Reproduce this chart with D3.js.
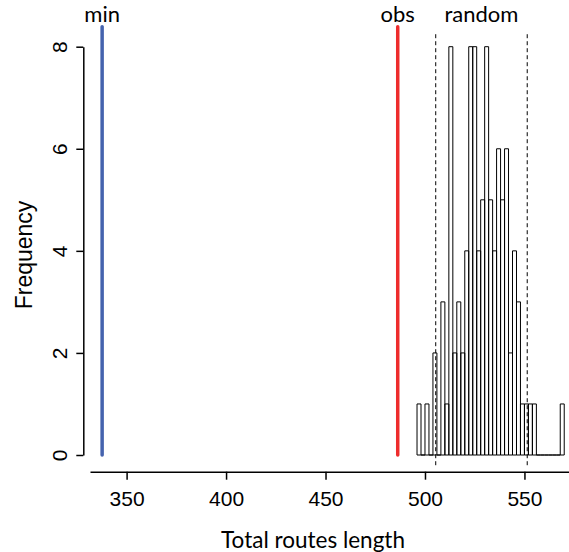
<!DOCTYPE html>
<html lang="en">
<head>
    <meta charset="UTF-8">
    <script src="https://cdn.jsdelivr.net/npm/d3@7"></script>
    <title>Total routes length</title>
    <style>
    body { margin: 0; background: white; }
    .tick text { font-family: "Liberation Sans", Arial, sans-serif; font-size: 21px; fill: black; }
    .lab { font-family: Lato, "Open Sans", sans-serif; font-size: 22px; fill: black; }
    </style>
</head>
<body>
    <div class="content"></div>
    <script>
    // histogram of random route lengths (bins of width 2)
    var breaks = d3.range(496, 572, 2);
    var counts = [1, 0, 1, 0, 2, 0, 3, 1, 8, 2, 3, 2, 4, 8, 8, 4, 5, 8, 5, 4,
                  6, 5, 6, 2, 4, 3, 1, 1, 1, 1, 0, 0, 0, 0, 0, 0, 1];
    // reference values
    var refNames = ['min', 'obs'];
    var refValues = [337.7, 486.3];
    var refColors = ['#4563ae', '#ee2c2c'];
    var quantiles = [505.4, 551.4];
    var xTicks = [350, 400, 450, 500, 550];
    var yTicks = [0, 2, 4, 6, 8];

    var p = { w: 569, h: 552 };

    var svg = d3.select('.content').append('svg')
        .attr('width', p.w)
        .attr('height', p.h);

    var x = d3.scaleLinear().domain([331.6, 572.4]).range([90, 569]);
    var y = d3.scaleLinear().domain([0, 8]).range([455, 46.7]);

    //truc x
    svg.append('g')
        .attr('transform', 'translate(0,471.7)')
        .call(d3.axisBottom(x).tickValues(xTicks).tickSize(8).tickSizeOuter(0).tickPadding(11))
        .call(function(g) {
            g.selectAll('path, line').attr('stroke', 'black').attr('stroke-width', 1.5);
        });

    //truc y, nhan xoay doc
    svg.append('g')
        .attr('transform', 'translate(83.3,0)')
        .call(d3.axisLeft(y).tickValues(yTicks).tickSize(7).tickSizeOuter(0))
        .call(function(g) {
            g.selectAll('path, line').attr('stroke', 'black').attr('stroke-width', 1.5);
            g.selectAll('text')
                .attr('transform', 'rotate(-90)')
                .attr('text-anchor', 'middle')
                .attr('x', 0)
                .attr('y', -16.3)
                .attr('dy', 0);
        });

    //cot histogram
    svg.append('g').selectAll('path')
        .data(counts)
        .enter().append('path')
        .attr('d', function(c, i) {
            var x0 = x(breaks[i]), x1 = x(breaks[i] + 2);
            return 'M' + x0 + ',' + y(0) + 'V' + y(c) + 'H' + x1 + 'V' + y(0) + 'Z';
        })
        .attr('fill', 'none')
        .attr('stroke', 'black')
        .attr('stroke-width', 1);

    //duong quantile
    svg.append('g').selectAll('line')
        .data(quantiles)
        .enter().append('line')
        .attr('x1', function(d) { return x(d); })
        .attr('x2', function(d) { return x(d); })
        .attr('y1', y(-0.2))
        .attr('y2', y(8.29))
        .attr('stroke', 'black')
        .attr('stroke-width', 1)
        .attr('stroke-dasharray', '4,3');

    //duong min va obs
    svg.append('g').selectAll('line')
        .data(refValues)
        .enter().append('line')
        .attr('x1', function(d) { return x(d); })
        .attr('x2', function(d) { return x(d); })
        .attr('y1', y(0))
        .attr('y2', y(8.39))
        .attr('stroke', function(d, i) { return refColors[i]; })
        .attr('stroke-width', 3.5)
        .attr('stroke-linecap', 'round');

    svg.append('g').selectAll('text')
        .data(refValues)
        .enter().append('text')
        .attr('class', 'lab')
        .attr('x', function(d) { return x(d); })
        .attr('y', 21.7)
        .attr('text-anchor', 'middle')
        .text(function(d, i) { return refNames[i]; });

    svg.append('text')
        .attr('class', 'lab')
        .attr('x', x(d3.mean(quantiles)))
        .attr('y', 21.7)
        .attr('text-anchor', 'middle')
        .text('random');

    //ten truc
    svg.append('text')
        .attr('class', 'lab')
        .attr('x', 313)
        .attr('y', 548)
        .attr('text-anchor', 'middle')
        .style('font-size', '22.5px')
        .text('Total routes length');

    svg.append('text')
        .attr('transform', 'translate(32,255) rotate(-90)')
        .attr('text-anchor', 'middle')
        .style('font-family', '"Liberation Sans", Arial, sans-serif')
        .style('font-size', '23px')
        .text('Frequency');
    </script>
</body>
</html>
